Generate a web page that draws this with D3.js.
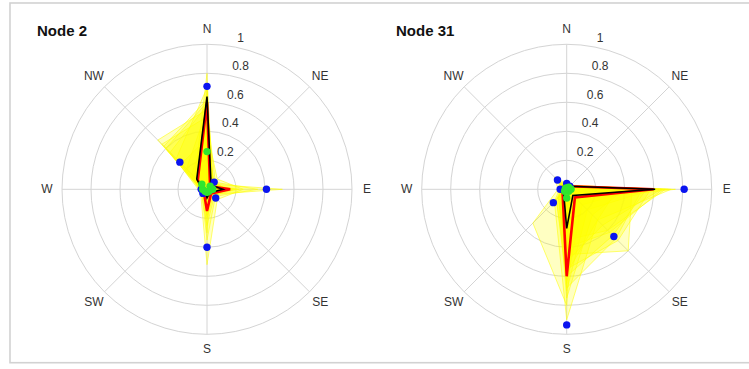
<!DOCTYPE html>
<html>
<head>
<meta charset="utf-8">
<script src="https://cdn.jsdelivr.net/npm/d3@7"></script>
<style>
  html, body { margin: 0; padding: 0; background: #fff; }
  svg { display: block; font-family: "Liberation Sans", Arial, Helvetica, sans-serif; }
</style>
</head>
<body>
<svg id="chart" width="749" height="369"></svg>
<script>
// Compass sectors, clockwise from north
const directions = ["N", "NE", "E", "SE", "S", "SW", "W", "NW"];
const ringTicks = [0.2, 0.4, 0.6, 0.8, 1];
const ringTickLabels = ["0.2", "0.4", "0.6", "0.8", "1"];

// Node 2 — ensemble members (yellow), mean (red), reference (black), max (blue), min (green)
const node2Members = [
  [0.80, 0.05, 0.10, 0.05, 0.10, 0.03, 0.03, 0.12],
  [0.70, 0.06, 0.15, 0.04, 0.12, 0.04, 0.04, 0.30],
  [0.62, 0.04, 0.20, 0.06, 0.20, 0.03, 0.05, 0.42],
  [0.55, 0.08, 0.12, 0.08, 0.35, 0.05, 0.04, 0.20],
  [0.48, 0.05, 0.52, 0.05, 0.15, 0.03, 0.03, 0.08],
  [0.66, 0.03, 0.08, 0.03, 0.08, 0.02, 0.03, 0.06],
  [0.40, 0.10, 0.25, 0.10, 0.52, 0.06, 0.05, 0.15],
  [0.58, 0.05, 0.18, 0.04, 0.18, 0.04, 0.06, 0.36],
  [0.72, 0.04, 0.10, 0.05, 0.05, 0.02, 0.02, 0.10],
  [0.35, 0.07, 0.35, 0.07, 0.25, 0.05, 0.05, 0.25],
  [0.55, 0.06, 0.14, 0.06, 0.12, 0.03, 0.04, 0.48],
  [0.52, 0.04, 0.22, 0.03, 0.30, 0.04, 0.03, 0.05],
  [0.50, 0.05, 0.12, 0.05, 0.10, 0.03, 0.04, 0.44],
  [0.60, 0.04, 0.10, 0.04, 0.15, 0.03, 0.03, 0.40]
];
const node2Mean = [0.60, 0.03, 0.16, 0.04, 0.15, 0.03, 0.03, 0.09];
const node2Ref  = [0.64, 0.04, 0.11, 0.03, 0.06, 0.02, 0.03, 0.10];
const node2Max  = [0.71, 0.07, 0.41, 0.085, 0.40, 0.04, 0.04, 0.265];
const node2Min  = [0.26, 0.03, 0.04, 0.02, 0.02, 0.02, 0.03, 0.05];

// Node 31
const node31Members = [
  [0.03, 0.03, 0.75, 0.10, 0.30, 0.05, 0.03, 0.05],
  [0.04, 0.02, 0.65, 0.35, 0.50, 0.08, 0.02, 0.03],
  [0.02, 0.03, 0.55, 0.45, 0.60, 0.10, 0.03, 0.04],
  [0.03, 0.04, 0.60, 0.20, 0.70, 0.05, 0.02, 0.10],
  [0.05, 0.02, 0.45, 0.60, 0.45, 0.08, 0.04, 0.05],
  [0.02, 0.03, 0.70, 0.05, 0.20, 0.03, 0.03, 0.02],
  [0.03, 0.02, 0.35, 0.30, 0.90, 0.12, 0.05, 0.06],
  [0.04, 0.03, 0.62, 0.08, 0.80, 0.33, 0.06, 0.12],
  [0.02, 0.02, 0.68, 0.40, 0.35, 0.05, 0.03, 0.03],
  [0.03, 0.03, 0.50, 0.15, 0.65, 0.10, 0.04, 0.08],
  [0.03, 0.04, 0.58, 0.50, 0.55, 0.06, 0.02, 0.04],
  [0.02, 0.02, 0.40, 0.25, 0.75, 0.08, 0.03, 0.05],
  [0.03, 0.03, 0.66, 0.42, 0.40, 0.05, 0.03, 0.04],
  [0.02, 0.03, 0.72, 0.30, 0.58, 0.06, 0.02, 0.03],
  [0.04, 0.02, 0.52, 0.48, 0.68, 0.07, 0.03, 0.05]
];
const node31Mean = [0.03, 0.03, 0.60, 0.08, 0.60, 0.04, 0.02, 0.03];
const node31Ref  = [0.02, 0.03, 0.61, 0.06, 0.27, 0.03, 0.02, 0.02];
const node31Max  = [0.04, 0.03, 0.81, 0.46, 0.935, 0.13, 0.045, 0.09];
const node31Min  = [0.01, 0.02, 0.03, 0.02, 0.06, 0.02, 0.01, 0.01];

const panels = [
  { title: "Node 2",  cx: 207,   cy: 189.3, titleX: 37,  members: node2Members,  mean: node2Mean,  ref: node2Ref,  max: node2Max,  min: node2Min },
  { title: "Node 31", cx: 566.7, cy: 189.3, titleX: 396, members: node31Members, mean: node31Mean, ref: node31Ref, max: node31Max, min: node31Min }
];

const svg = d3.select("#chart");

// figure frame
svg.append("rect")
  .attr("x", 10).attr("y", 3)
  .attr("width", 745).attr("height", 359.7)
  .attr("fill", "none").attr("stroke", "#d2d2d2").attr("stroke-width", 1.6);

const r = d3.scaleLinear().domain([0, 1]).range([0, 145]);
const angle = d3.scaleLinear().domain([0, directions.length]).range([0, 2 * Math.PI]);

const radial = d3.lineRadial()
  .angle((d, i) => angle(i))
  .radius(d => r(d))
  .curve(d3.curveLinearClosed);

const labelAngle = 10 * Math.PI / 180; // radial labels sit 10° east of north

panels.forEach(p => {
  const g = svg.append("g").attr("transform", `translate(${p.cx},${p.cy})`);

  // grid rings
  g.selectAll("circle.ring").data(ringTicks).join("circle")
    .attr("class", "ring")
    .attr("r", d => r(d))
    .attr("fill", "none").attr("stroke", "#d4d4d4").attr("stroke-width", 1);

  // spokes through the centre
  g.selectAll("line.spoke").data(directions.slice(0, 4)).join("line")
    .attr("class", "spoke")
    .attr("x1", (d, i) => r(1) * Math.sin(angle(i)))
    .attr("y1", (d, i) => -r(1) * Math.cos(angle(i)))
    .attr("x2", (d, i) => -r(1) * Math.sin(angle(i)))
    .attr("y2", (d, i) => r(1) * Math.cos(angle(i)))
    .attr("stroke", "#d4d4d4").attr("stroke-width", 1);

  // ensemble members
  g.selectAll("path.member").data(p.members).join("path")
    .attr("class", "member")
    .attr("d", radial)
    .attr("fill", "#ffff00").attr("fill-opacity", 0.24)
    .attr("stroke", "#ffff00").attr("stroke-opacity", 0.55).attr("stroke-width", 1)
    .attr("stroke-linejoin", "miter");

  // mean and reference
  g.append("path").attr("d", radial(p.mean))
    .attr("fill", "none").attr("stroke", "#ff0000").attr("stroke-width", 2.6)
    .attr("stroke-linejoin", "miter");
  g.append("path").attr("d", radial(p.ref))
    .attr("fill", "none").attr("stroke", "#000000").attr("stroke-width", 1.6)
    .attr("stroke-linejoin", "miter");

  // extremes
  const dot = (vals, color, cls) => {
    g.selectAll("circle." + cls).data(vals).join("circle")
      .attr("class", cls)
      .attr("cx", (d, i) => r(d) * Math.sin(angle(i)))
      .attr("cy", (d, i) => -r(d) * Math.cos(angle(i)))
      .attr("r", 3.7)
      .attr("fill", color);
  };
  dot(p.max, "#0a14f0", "maxdot");
  dot(p.min, "#2ee62e", "mindot");

  // ring labels
  g.selectAll("text.rlabel").data(ringTicks).join("text")
    .attr("class", "rlabel")
    .attr("x", d => r(d) * Math.sin(labelAngle) + 5)
    .attr("y", d => -r(d) * Math.cos(labelAngle) - 5)
    .attr("font-size", 12).attr("fill", "#333")
    .text((d, i) => ringTickLabels[i]);

  // compass labels
  g.selectAll("text.dir").data(directions).join("text")
    .attr("class", "dir")
    .attr("x", (d, i) => 160 * Math.sin(angle(i)))
    .attr("y", (d, i) => -160 * Math.cos(angle(i)))
    .attr("text-anchor", "middle").attr("dominant-baseline", "central")
    .attr("font-size", 12).attr("fill", "#333")
    .text(d => d);

  // panel title
  svg.append("text")
    .attr("x", p.titleX).attr("y", 35.5)
    .attr("font-size", 15).attr("font-weight", "bold").attr("fill", "#111")
    .text(p.title);
});
</script>
</body>
</html>
